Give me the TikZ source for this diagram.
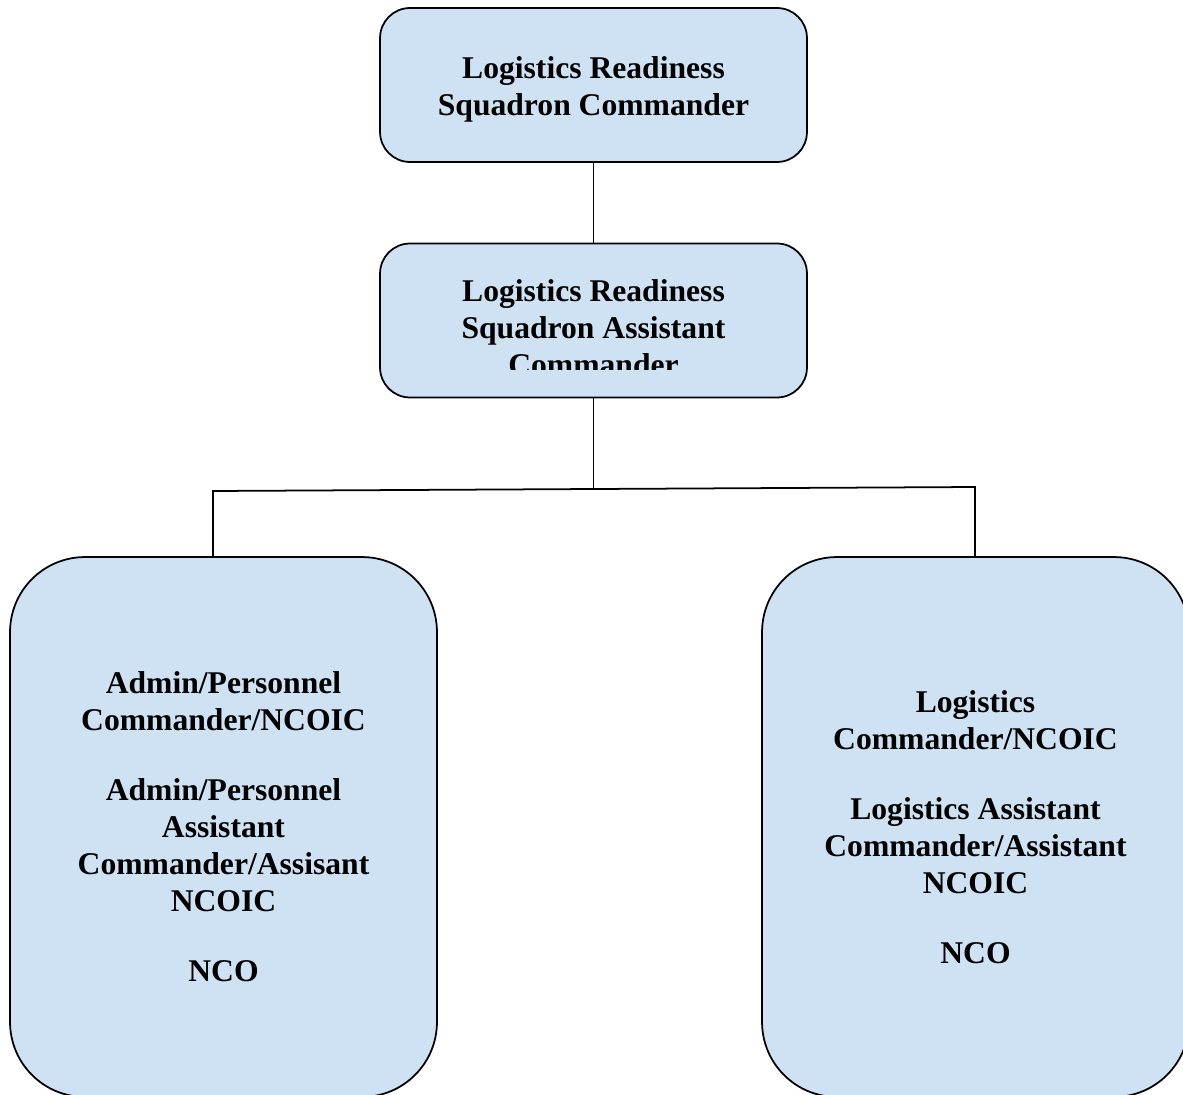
\documentclass[tikz,border=0pt]{standalone}
\usepackage{fontspec}
\setmainfont{Liberation Serif}
\definecolor{boxblue}{HTML}{CFE2F3}
\begin{document}
\begin{tikzpicture}[
		x=0.02cm, y=-0.02cm,
		every node/.style = {
			font=\bfseries\fontsize{18}{21}\selectfont,
			align=center
		},
		post/.style = {
			rectangle,
			draw,
			line width=1pt,
			fill=boxblue,
			rounded corners=0.6cm,
			minimum width=8.54cm,
			minimum height=3.08cm,
			inner sep=0pt
		},
		unit/.style = {
			post,
			rounded corners=1.5cm,
			minimum height=10.8cm
		},
		link/.style = {line width=1pt}
	]
	\useasboundingbox (0,0) rectangle (1183,1095);
	\node[post] (LRS)  at (593.5,85)    {};
	\node (LRStext) at (593.5,89) {Logistics Readiness\\Squadron Commander};
	\node[post] (ASST) at (593.5,320.5) {};
	\begin{scope}
		\clip (380,243) rectangle (807,369);
		\node (ASSTtext) at (593.5,328) {Logistics Readiness\\Squadron Assistant\\Commander};
	\end{scope}
	\node[unit] (ADMIN) at (223.5,827) {
		Admin/Personnel\\Commander/NCOIC\\[19pt]
		Admin/Personnel\\Assistant\\Commander/Assisant\\NCOIC\\[19pt]
		NCO
	};
	\node[unit] (LOG) at (975.5,827) {
		Logistics\\Commander/NCOIC\\[19pt]
		Logistics Assistant\\Commander/Assistant\\NCOIC\\[19pt]
		NCO
	};
	\coordinate (split) at (593.5,489);
	\coordinate (BL)    at (213,491);
	\coordinate (BR)    at (975,487);
	\draw[link] (LRS.south) -- (ASST.north);
	\draw[link] (ASST.south) -- (split);
	\draw[link] (BL |- ADMIN.north) -- (BL) -- (BR) -- (BR |- LOG.north);
\end{tikzpicture}
\end{document}
